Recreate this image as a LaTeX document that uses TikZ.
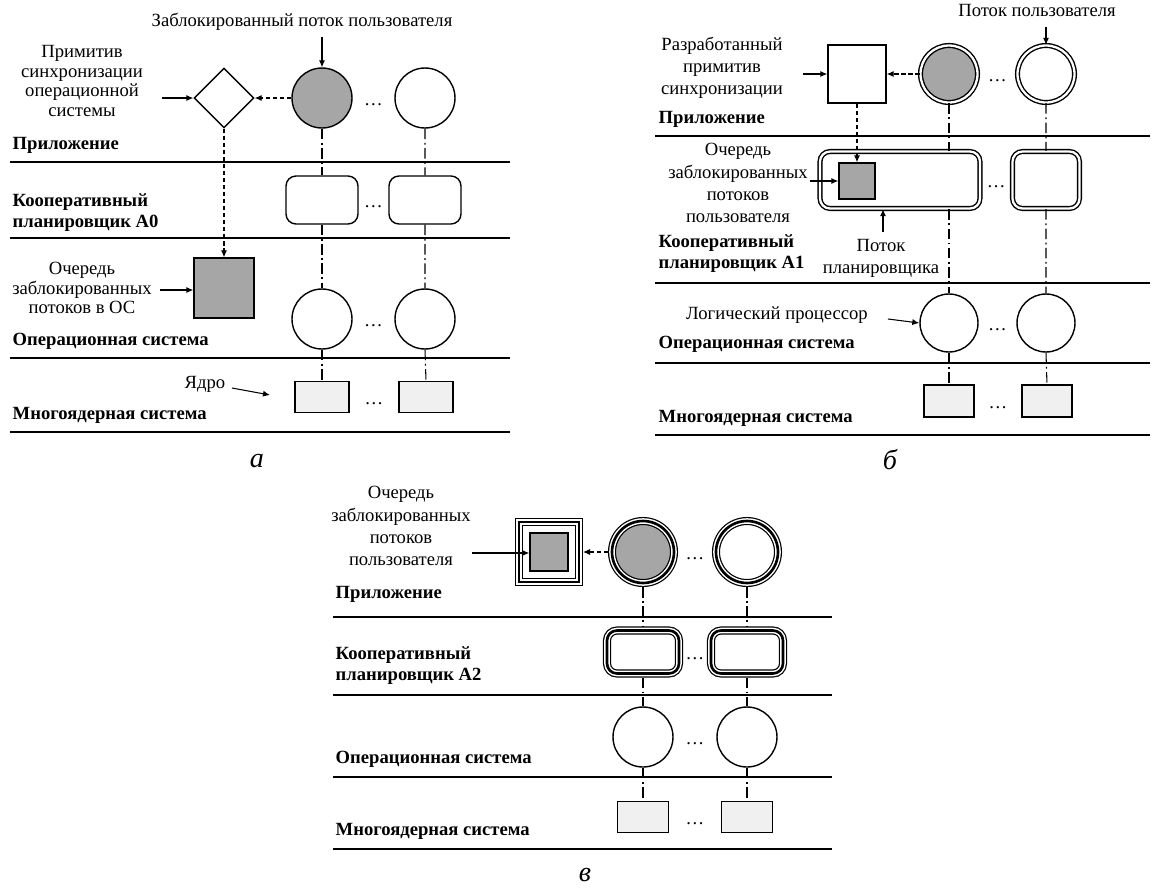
\documentclass[tikz,border=0pt]{standalone}
\usepackage{fontspec}
\setmainfont{Liberation Serif}
\usepackage{xcolor}
\definecolor{blocked}{HTML}{A6A6A6}
\definecolor{core}{HTML}{F0F0F0}
\usetikzlibrary{arrows.meta, shapes.geometric, positioning, calc}

\tikzset{
  layer/.style={font=\fontsize{10.6}{12}\selectfont\bfseries, anchor=south west,
                inner sep=0pt, align=left},
  note/.style={align=center, inner sep=0pt},
  wide/.style={font=\fontsize{10.6}{12.6}\selectfont},
  sepline/.style={line width=0.8pt},
  link/.style={line width=0.6pt, dash pattern=on 6pt off 2pt on 1pt off 2pt},
  wait/.style={->, line width=0.6pt, dash pattern=on 2.5pt off 1.5pt},
  ptr/.style={->, line width=0.6pt},
  dots/.style={inner sep=0pt, yshift=-4pt},
  thread/.style={circle, draw, inner sep=0pt, minimum size=1.2cm},
  blockedthr/.style={thread, fill=blocked},
  sched/.style={draw, inner sep=0pt, rounded corners=0.2cm,
                minimum width=1.44cm, minimum height=0.96cm},
  queue/.style={draw, fill=blocked, inner sep=0pt},
  corebox/.style={draw, fill=core, inner sep=0pt,
                  minimum width=1.08cm, minimum height=0.62cm},
  dbl/.style={double, double distance=1.3pt, line width=0.8pt},
  triple/.style={line width=4.6pt, postaction={draw=white, line width=3.2pt},
                 postaction={draw=black, line width=1.5pt}},
  caption/.style={font=\fontsize{16}{16}\selectfont\itshape, inner sep=0pt}
}

\begin{document}
\begin{tikzpicture}[x=0.02cm, y=-0.02cm, line width=0.8pt,
  >={Latex[length=4pt, width=3.5pt]}, font=\fontsize{10.6}{11.2}\selectfont]
  \useasboundingbox (0,0) rectangle (1154,890);

  % ---------- а ----------
  \foreach \y in {162,238,358,432}
    \draw[sepline] (10,\y) -- (510,\y);
  \node[layer] (lyA1) at (12,154) {Приложение};
  \node[layer] (lyA2) at (12,232) {Кооперативный\\планировщик А0};
  \node[layer] (lyA3) at (12,350) {Операционная система};
  \node[layer] (lyA4) at (12,424) {Многоядерная система};

  \node[diamond, draw, aspect=1, inner sep=0pt, minimum size=1.2cm] (pA) at (224,98) {};
  \node[blockedthr] (uA1) at (322,98) {};
  \node[thread] (uA2) at (425,98) {};
  \node[sched] (sA1) at (322,200) {};
  \node[sched] (sA2) at (425,200) {};
  \node[queue, minimum size=1.2cm] (qA) at (224,288) {};
  \node[thread] (oA1) at (322,319) {};
  \node[thread] (oA2) at (425,319) {};
  \node[corebox] (cA1) at (322,397) {};
  \node[corebox] (cA2) at (426,397) {};

  \node[dots] (dA1) at ($(uA1.east)!0.5!(uA2.west)$) {\dots};
  \node[dots] (dA2) at ($(sA1.east)!0.5!(sA2.west)$) {\dots};
  \node[dots] (dA3) at ($(oA1.east)!0.5!(oA2.west)$) {\dots};
  \node[dots] (dA4) at ($(cA1.east)!0.5!(cA2.west)$) {\dots};

  \foreach \i in {1,2}
    \draw[link] (uA\i.south) -- (sA\i.north) (sA\i.south) -- (oA\i.north)
                (oA\i.south) -- (cA\i.north);
  \draw[wait] (uA1.west) -- (pA.east);
  \draw[wait] (pA.south) -- (qA.north);

  \node[note] (lblA1) at (302,22) {Заблокированный поток пользователя};
  \coordinate (fA1) at (322,37);
  \draw[ptr] (fA1) -- (uA1.north);
  \node[note] (lblA2) at (82,81) {Примитив\\синхронизации\\операционной\\системы};
  \coordinate (fA2) at (162,98);
  \draw[ptr] (fA2) -- (pA.west);
  \node[note] (lblA3) at (82,288) {Очередь\\заблокированных\\потоков в ОС};
  \coordinate (fA3) at (160,290);
  \draw[ptr] (fA3) -- (fA3 -| qA.west);
  \node[note] (lblA4) at (205,384) {Ядро};
  \coordinate (fA4) at (232,388);
  \coordinate (tA4) at (270,395);
  \draw[ptr] (fA4) -- (tA4);
  \node[caption] (capA) at (257,461) {а};

  % ---------- б ----------
  \foreach \y in {136,283,363,435}
    \draw[sepline] (655,\y) -- (1150,\y);
  \node[layer] (lyB1) at (658,128) {Приложение};
  \node[layer] (lyB2) at (658,273) {Кооперативный\\планировщик А1};
  \node[layer] (lyB3) at (658,353) {Операционная система};
  \node[layer] (lyB4) at (658,427) {Многоядерная система};

  \node[draw, inner sep=0pt, minimum size=1.16cm] (pB) at (857,74) {};
  \node[blockedthr, dbl, minimum size=1.14cm] (uB1) at (949,74) {};
  \node[thread, dbl, minimum size=1.14cm] (uB2) at (1046,74) {};
  \node[sched, dbl, minimum width=3.2cm, minimum height=1.14cm] (sB1) at (900,180) {};
  \node[sched, dbl, minimum width=1.34cm, minimum height=1.14cm] (sB2) at (1046,180) {};
  \node[queue, minimum size=0.72cm] (qB) at (857,181) {};
  \node[thread, minimum size=1.16cm] (oB1) at (949,323) {};
  \node[thread, minimum size=1.16cm] (oB2) at (1046,323) {};
  \node[corebox, minimum width=1cm, minimum height=0.64cm] (cB1) at (949,401) {};
  \node[corebox, minimum width=1cm, minimum height=0.64cm] (cB2) at (1047,401) {};

  \node[dots] (dB1) at ($(uB1.east)!0.5!(uB2.west)$) {\dots};
  \node[dots] (dB2) at ($(sB1.east)!0.5!(sB2.west)$) {\dots};
  \node[dots] (dB3) at ($(oB1.east)!0.5!(oB2.west)$) {\dots};
  \node[dots] (dB4) at ($(cB1.east)!0.5!(cB2.west)$) {\dots};

  \draw[link] (uB1.south) -- (uB1.south |- sB1.north)
              (uB1.south |- sB1.south) -- (oB1.north) (oB1.south) -- (cB1.north);
  \draw[link] (uB2.south) -- (sB2.north) (sB2.south) -- (oB2.north)
              (oB2.south) -- (cB2.north);
  \draw[wait] (uB1.west) -- (pB.east);
  \draw[wait] (pB.south) -- (qB.north);

  \node[note] (lblB1) at (1037,10) {Поток пользователя};
  \coordinate (fB1) at (1046,27);
  \draw[ptr] (fB1) -- (uB2.north);
  \node[note, wide] (lblB2) at (722,68) {Разработанный\\примитив\\синхронизации};
  \coordinate (fB2) at (803,74);
  \draw[ptr] (fB2) -- (pB.west);
  \node[note, wide] (lblB3) at (738,183) {Очередь\\заблокированных\\потоков\\пользователя};
  \coordinate (fB3) at (810,181);
  \draw[ptr] (fB3) -- (qB.west);
  \node[note, wide] (lblB4) at (881,258) {Поток\\планировщика};
  \coordinate (fB4) at (883,232);
  \draw[ptr] (fB4) -- (fB4 |- sB1.south);
  \node[note] (lblB5) at (777,315) {Логический процессор};
  \coordinate (fB5) at (888,319);
  \draw[ptr] (fB5) -- (oB1.west);
  \node[caption] (capB) at (890,460) {б};

  % ---------- в ----------
  \foreach \y in {617,695,777,849}
    \draw[sepline] (333,\y) -- (832,\y);
  \node[layer] (lyC1) at (335,603) {Приложение};
  \node[layer] (lyC2) at (335,685) {Кооперативный\\планировщик А2};
  \node[layer] (lyC3) at (335,768) {Операционная система};
  \node[layer] (lyC4) at (335,840) {Многоядерная система};

  \node[draw, triple, inner sep=0pt, minimum size=1.2cm] (pC) at (549,552) {};
  \node[queue, minimum size=0.76cm] (qC) at (549,552) {};
  \node[blockedthr, triple, minimum size=1.24cm] (uC1) at (643,552) {};
  \node[thread, triple, minimum size=1.24cm] (uC2) at (747,552) {};
  \node[sched, triple, minimum width=1.44cm, minimum height=0.86cm] (sC1) at (643,652) {};
  \node[sched, triple, minimum width=1.44cm, minimum height=0.86cm] (sC2) at (747,652) {};
  \node[thread] (oC1) at (643,737) {};
  \node[thread] (oC2) at (747,737) {};
  \node[corebox, minimum width=1.02cm] (cC1) at (643,817) {};
  \node[corebox, minimum width=1.02cm] (cC2) at (747,817) {};

  \node[dots] (dC1) at ($(uC1.east)!0.5!(uC2.west)$) {\dots};
  \node[dots] (dC2) at ($(sC1.east)!0.5!(sC2.west)$) {\dots};
  \node[dots] (dC3) at ($(oC1.east)!0.5!(oC2.west)$) {\dots};
  \node[dots] (dC4) at ($(cC1.east)!0.5!(cC2.west)$) {\dots};

  \foreach \i in {1,2}
    \draw[link] (uC\i.south) -- (sC\i.north) (sC\i.south) -- (oC\i.north)
                (oC\i.south) -- (cC\i.north);
  \draw[wait] (uC1.west) -- (pC.east);

  \node[note, wide] (lblC1) at (401,526) {Очередь\\заблокированных\\потоков\\пользователя};
  \coordinate (fC1) at (472,553);
  \draw[ptr] (fC1) -- (fC1 -| qC.west);
  \node[caption] (capC) at (585,875) {в};
\end{tikzpicture}
\end{document}
